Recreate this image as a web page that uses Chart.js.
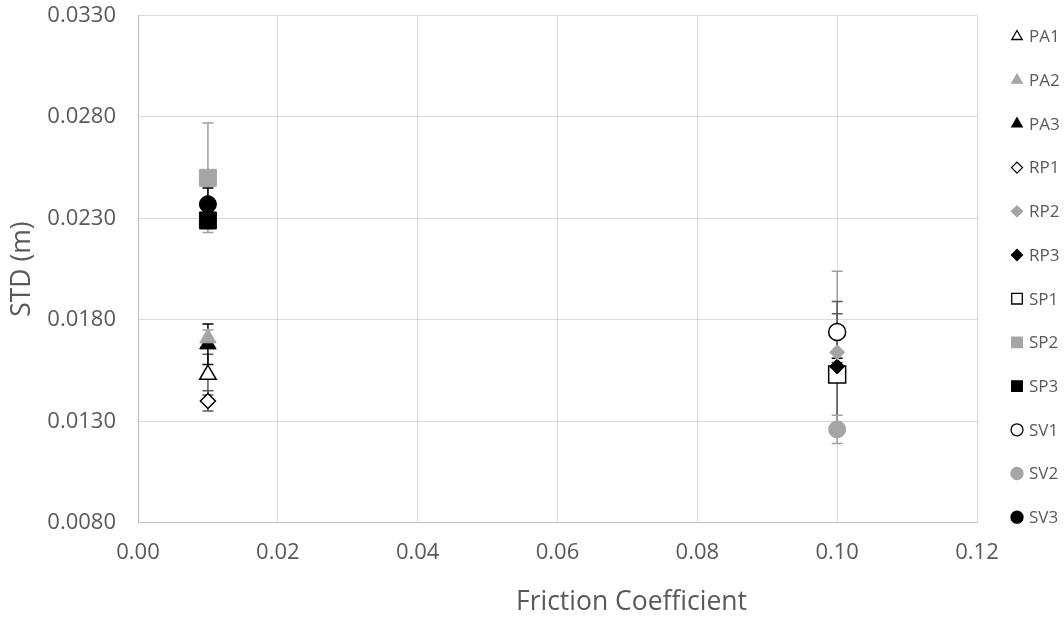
<!DOCTYPE html>
<html>
<head>
<meta charset="utf-8">
<script src="https://cdn.jsdelivr.net/npm/chart.js@4.4.0/dist/chart.umd.min.js"></script>
<style>
  html, body { margin: 0; padding: 0; background: #fff; }
  #wrap { width: 1064px; height: 617px; }
</style>
</head>
<body>
<div id="wrap"><canvas id="chart" width="1064" height="617"></canvas></div>
<script>
// one point per series
const seriesNames = ['PA1', 'PA2', 'PA3', 'RP1', 'RP2', 'RP3', 'SP1', 'SP2', 'SP3', 'SV1', 'SV2', 'SV3'];
const frictionX   = [0.01, 0.01, 0.01, 0.01, 0.10, 0.10, 0.10, 0.01, 0.01, 0.10, 0.10, 0.01];
const stdValues   = [0.0153, 0.0171, 0.0168, 0.0140, 0.0164, 0.0157, 0.0153, 0.0250, 0.0229, 0.0174, 0.0126, 0.0237];
const stdErrors   = [0.0010, 0.0004, 0.0010, 0.0005, 0.0040, 0.0004, 0.0030, 0.0027, 0.0004, 0.0015, 0.0007, 0.0008];
const markers     = ['triangle', 'triangle', 'triangle', 'rectRot', 'rectRot', 'rectRot', 'rect', 'rect', 'rect', 'circle', 'circle', 'circle'];
const fills       = ['open', 'gray', 'black', 'open', 'gray', 'black', 'open', 'gray', 'black', 'open', 'gray', 'black'];

const xTicks = [0, 0.02, 0.04, 0.06, 0.08, 0.10, 0.12];
const yTicks = [0.0080, 0.0130, 0.0180, 0.0230, 0.0280, 0.0330];

const GRAY = '#a5a5a5';
const TEXT = '#595959';
const FONT = '"Open Sans", "Liberation Sans", sans-serif';

const markerRadius = { triangle: 9.5, rectRot: 7.5, rect: 12, circle: 8.5 };
const legendRadius = { triangle: 6, rectRot: 5.5, rect: 7.5, circle: 6 };

function colorsFor(kind) {
    if (kind === 'open') return { bg: '#ffffff', border: '#000000', err: '#595959' };
    if (kind === 'gray') return { bg: GRAY, border: GRAY, err: '#a0a0a0' };
    return { bg: '#000000', border: '#000000', err: '#000000' };
}

const datasets = seriesNames.map((name, i) => {
    const c = colorsFor(fills[i]);
    return {
        label: name,
        data: [{ x: frictionX[i], y: stdValues[i] }],
        pointStyle: markers[i],
        pointRadius: markerRadius[markers[i]],
        backgroundColor: c.bg,
        borderColor: c.border,
        pointBorderWidth: fills[i] === 'open' ? 1.5 : 1,
        errorColor: c.err,
        showLine: false
    };
});

// vertical error bars, drawn under the markers
const errorBars = {
    id: 'errorBars',
    beforeDatasetsDraw(chart) {
        const ctx = chart.ctx;
        const xs = chart.scales.x, ys = chart.scales.y;
        ctx.save();
        ctx.lineWidth = 1.5;
        chart.data.datasets.forEach((ds, i) => {
            const px = xs.getPixelForValue(frictionX[i]);
            const top = ys.getPixelForValue(stdValues[i] + stdErrors[i]);
            const bot = ys.getPixelForValue(stdValues[i] - stdErrors[i]);
            ctx.strokeStyle = ds.errorColor;
            ctx.beginPath();
            ctx.moveTo(px, top); ctx.lineTo(px, bot);
            ctx.moveTo(px - 5.5, top); ctx.lineTo(px + 5.5, top);
            ctx.moveTo(px - 5.5, bot); ctx.lineTo(px + 5.5, bot);
            ctx.stroke();
        });
        ctx.restore();
    }
};

// legend column on the right and the shifted x title
const sideLegend = {
    id: 'sideLegend',
    afterDraw(chart) {
        const ctx = chart.ctx;
        const area = chart.chartArea;
        const x0 = area.right + 40;
        const y0 = area.top + 21;
        const step = 43.7;
        ctx.save();
        ctx.textBaseline = 'middle';
        ctx.textAlign = 'left';
        ctx.font = '17px ' + FONT;
        chart.data.datasets.forEach((ds, i) => {
            const yy = y0 + i * step;
            ctx.fillStyle = ds.backgroundColor;
            ctx.strokeStyle = ds.borderColor;
            ctx.lineWidth = 1.3;
            Chart.helpers.drawPoint(ctx, {
                pointStyle: ds.pointStyle,
                rotation: 0,
                radius: legendRadius[ds.pointStyle],
                borderWidth: 1.3
            }, x0, yy);
            ctx.fillStyle = TEXT;
            ctx.fillText(ds.label, x0 + 12, yy + 1);
        });

        ctx.font = '26.5px ' + FONT;
        ctx.textAlign = 'center';
        ctx.textBaseline = 'alphabetic';
        ctx.fillStyle = TEXT;
        ctx.fillText('Friction Coefficient', (area.left + area.right) / 2 + 74, area.bottom + 87);
        ctx.restore();
    }
};

const chart = new Chart(document.getElementById('chart'), {
    type: 'scatter',
    data: { datasets: datasets },
    options: {
        responsive: false,
        animation: false,
        devicePixelRatio: 1,
        layout: { padding: { top: 15.5, right: 87, left: 0, bottom: 0 } },
        plugins: {
            legend: { display: false },
            tooltip: { enabled: false }
        },
        scales: {
            x: {
                type: 'linear',
                min: xTicks[0],
                max: xTicks[xTicks.length - 1],
                afterBuildTicks: scale => { scale.ticks = xTicks.map(v => ({ value: v })); },
                afterFit: scale => { scale.height = 94.3; },
                ticks: {
                    color: TEXT,
                    font: { family: FONT, size: 22 },
                    padding: 17,
                    callback: v => v.toFixed(2)
                },
                grid: { color: '#d9d9d9', drawTicks: false },
                border: { color: '#bfbfbf' }
            },
            y: {
                min: yTicks[0],
                max: yTicks[yTicks.length - 1],
                afterBuildTicks: scale => { scale.ticks = yTicks.map(v => ({ value: v })); },
                afterFit: scale => {
                    scale.width = 138;
                    scale.paddingTop = 0;
                    scale.paddingBottom = 0;
                },
                ticks: {
                    color: TEXT,
                    font: { family: FONT, size: 22 },
                    padding: 22,
                    callback: v => v.toFixed(4)
                },
                grid: { color: '#d9d9d9', drawTicks: false },
                border: { color: '#bfbfbf' },
                title: {
                    display: true,
                    text: 'STD (m)',
                    color: TEXT,
                    font: { family: FONT, size: 26.5 },
                    padding: { top: 6.5, bottom: 0 }
                }
            }
        }
    },
    plugins: [errorBars, sideLegend]
});
</script>
</body>
</html>
